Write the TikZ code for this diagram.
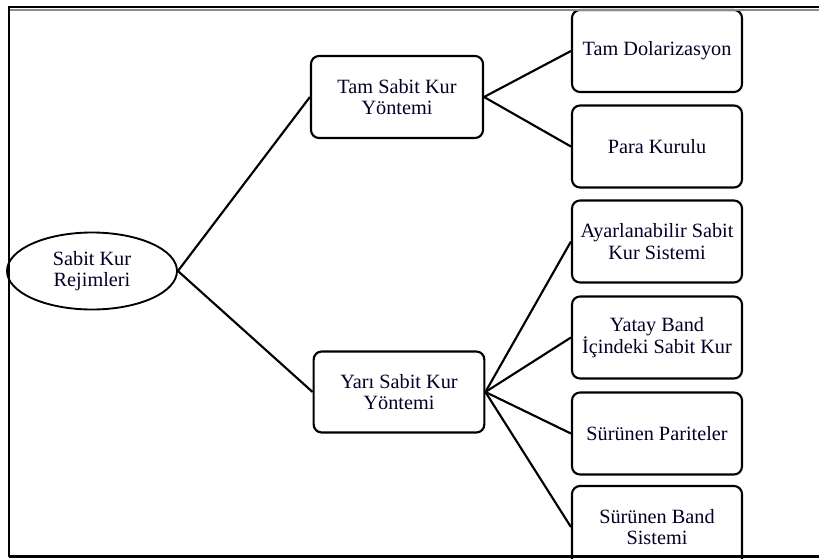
\documentclass[tikz,border=0pt]{standalone}
\usepackage{fontspec}
\setmainfont{Liberation Serif}
\usetikzlibrary{shapes.geometric}
\begin{document}
\begin{tikzpicture}[x=0.75pt,y=-0.75pt,
  txt/.style={align=center,font=\fontsize{15.2}{16}\selectfont,text=black!85!blue},
  boxnode/.style={txt,draw,line width=1.6pt,rounded corners=6pt,minimum width=127.5pt,minimum height=61.5pt,inner sep=0pt},
  rootnode/.style={txt,draw,ellipse,line width=1.4pt,minimum width=127.5pt,minimum height=57.75pt,inner sep=0pt},
  link/.style={line width=1.6pt},
  frameline/.style={line width=2pt,black}]
\useasboundingbox (0,0) rectangle (819,558);
\fill[white] (0,0) rectangle (819,558);
% nodes
\node[rootnode] (root) at (92,271) {Sabit Kur\\Rejimleri};
\node[boxnode,minimum width=129pt] (tam) at (397,97) {Tam Sabit Kur\\Yöntemi};
\node[boxnode,minimum width=128pt,minimum height=60.75pt] (yari) at (399,392) {Yarı Sabit Kur\\Yöntemi};
\node[boxnode] (c1) at (657,51) {Tam Dolarizasyon};
\node[boxnode] (c2) at (657,146.5) {Para Kurulu};
\node[boxnode] (c3) at (657,241.5) {Ayarlanabilir Sabit\\Kur Sistemi};
\node[boxnode] (c4) at (657,337.5) {Yatay Band\\İçindeki Sabit Kur};
\node[boxnode] (c5) at (657,433.5) {Sürünen Pariteler};
\node[boxnode] (c6) at (657,527) {Sürünen Band\\Sistemi};
% connectors
\draw[link] (root.east) -- (tam.west);
\draw[link] (root.east) -- (yari.west);
\draw[link] (tam.east) -- (c1.west);
\draw[link] (tam.east) -- (c2.west);
\draw[link] (yari.east) -- (c3.west);
\draw[link] (yari.east) -- (c4.west);
\draw[link] (yari.east) -- (c5.west);
\draw[link] (yari.east) -- (c6.west);
% frame
\coordinate (tl) at (9,7);
\coordinate (tr) at (819,7);
\coordinate (gl) at (9,10);
\coordinate (gr) at (819,10);
\coordinate (bl) at (9,556.5);
\coordinate (br) at (819,556.5);
\fill[white] (0,558) rectangle (819,556);
\draw[black!45,line width=1pt] (gl) -- (gr);
\draw[frameline] (tl) -- (tr);
\draw[frameline,line width=2.2pt] (bl) -- (br);
\draw[frameline] (9,6) -- (bl);
\end{tikzpicture}
\end{document}
